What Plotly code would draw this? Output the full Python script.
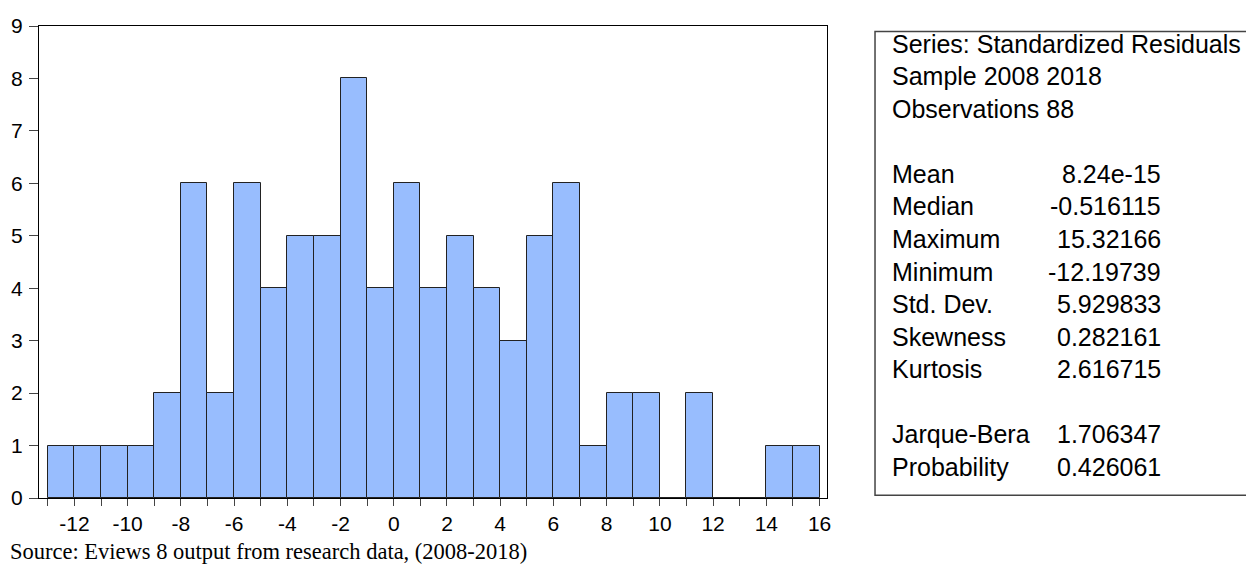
import plotly.graph_objects as go

# ---- data ----
bin_left = [-13, -12, -11, -10, -9, -8, -7, -6, -5, -4, -3, -2, -1, 0, 1, 2, 3, 4,
            5, 6, 7, 8, 9, 10, 11, 12, 13, 14, 15]
counts = [1, 1, 1, 1, 2, 6, 2, 6, 4, 5, 5, 8, 4, 6, 4, 5, 4, 3,
          5, 6, 1, 2, 2, 0, 2, 0, 0, 1, 1]
bin_width = 1
x_tick_vals = [-12, -10, -8, -6, -4, -2, 0, 2, 4, 6, 8, 10, 12, 14, 16]
x_tick_text = ["-12", "-10", "-8", "-6", "-4", "-2", "0", "2", "4", "6", "8", "10", "12", "14", "16"]
y_tick_vals = [0, 1, 2, 3, 4, 5, 6, 7, 8, 9]

stat_header = ["Series: Standardized Residuals", "Sample 2008 2018", "Observations 88"]
stat_names = ["Mean", "Median", "Maximum", "Minimum", "Std. Dev.", "Skewness", "Kurtosis"]
stat_values = ["8.24e-15", "-0.516115", "15.32166", "-12.19739", "5.929833", "0.282161", "2.616715"]
test_names = ["Jarque-Bera", "Probability"]
test_values = ["1.706347", "0.426061"]
source_text = "Source: Eviews 8 output from research data, (2008-2018)"

# ---- layout geometry (screen pixels; page body has an 8px margin) ----
OFF = 8
W, H = 1254 - OFF, 571 - OFF
PL, PR, PT, PB = 39, 826.7, 26.3, 497.7
FONT = "Liberation Sans, Arial, sans-serif"
STAT_SIZE = 25


def px_x(p):
    return (p - PL) / (PR - PL)


def px_y(p):
    return (PB - p) / (PB - PT)


centers = [b + bin_width / 2 for b in bin_left]

fig = go.Figure()
fig.add_trace(go.Bar(
    x=centers, y=counts, width=[bin_width] * len(counts),
    marker=dict(color="#98BDFE", line=dict(color="#222222", width=1)),
    hoverinfo="x+y", showlegend=False,
))


def add_text(annotations, text, x, y, anchor, size=STAT_SIZE, family=FONT):
    annotations.append(dict(text=text, x=px_x(x), y=px_y(y), xref="paper", yref="paper",
                            xanchor=anchor, yanchor="middle", showarrow=False,
                            font=dict(family=family, size=size, color="black")))


annotations = []
step = 32.5
first = 44
label_x, value_x = 890, 1163
row = 0
for t in stat_header:
    add_text(annotations, t, label_x, first + row * step, "left")
    row += 1
row += 1
for n, v in zip(stat_names, stat_values):
    add_text(annotations, n, label_x, first + row * step, "left")
    add_text(annotations, v, value_x, first + row * step, "right")
    row += 1
row += 1
for n, v in zip(test_names, test_values):
    add_text(annotations, n, label_x, first + row * step, "left")
    add_text(annotations, v, value_x, first + row * step, "right")
    row += 1

add_text(annotations, source_text, OFF, 551, "left", size=22.5,
         family="Liberation Serif, Times New Roman, serif")

shapes = [dict(type="rect", xref="paper", yref="paper",
               x0=px_x(874.7), x1=px_x(1262), y0=px_y(495), y1=px_y(31.7),
               line=dict(color="#444444", width=1.5), fillcolor="rgba(0,0,0,0)")]

fig.update_layout(
    width=W, height=H,
    margin=dict(l=PL - OFF, r=(W + OFF) - PR, t=PT - OFF, b=(H + OFF) - PB, pad=0),
    paper_bgcolor="white", plot_bgcolor="white",
    bargap=0,
    annotations=annotations, shapes=shapes,
    font=dict(family=FONT, size=22, color="black"),
    xaxis=dict(range=[-13.33, 16.28], tickmode="array", tickvals=x_tick_vals, ticktext=x_tick_text,
               ticks="outside", ticklen=7, tickcolor="#444444", tickwidth=1,
               minor=dict(dtick=1, tick0=0, ticks="outside", ticklen=7, tickcolor="#444444", tickwidth=1),
               showline=True, linecolor="black", linewidth=1, mirror=True,
               showgrid=False, zeroline=False, automargin=False, ticklabelstandoff=0,
               tickfont=dict(family=FONT, size=21, color="black")),
    yaxis=dict(range=[0, 9], tickmode="array", tickvals=y_tick_vals,
               ticks="outside", ticklen=9, tickcolor="#444444", tickwidth=1,
               showline=True, linecolor="black", linewidth=1, mirror=True,
               showgrid=False, zeroline=False, automargin=False, ticklabelstandoff=2,
               tickfont=dict(family=FONT, size=21, color="black")),
)

fig.write_html("out.html")
